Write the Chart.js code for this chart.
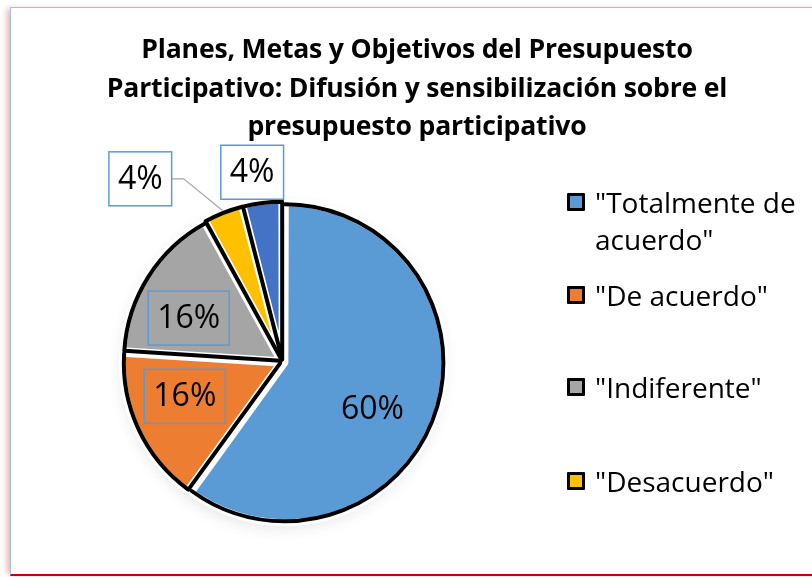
<!DOCTYPE html>
<html lang="es">
<head>
    <meta charset="UTF-8">
    <meta name="viewport" content="width=device-width, initial-scale=1.0">
    <title>Difusión y sensibilización sobre el presupuesto participativo</title>
    <script src="https://cdn.jsdelivr.net/npm/chart.js"></script>
    <style>
        body {
            margin: 0;
            background: #fff;
            font-family: "Open Sans", Arial, sans-serif;
        }
        .wrap {
            position: relative;
            width: 812px;
            height: 577px;
            overflow: hidden;
        }
        .frame {
            position: absolute;
            left: 10px;
            top: 7px;
            width: 840px;
            height: 566px;
            border-top: 1px solid #9cc2ee;
            border-left: 1px solid #9cc2ee;
            border-bottom: 2px solid #c8000a;
            box-shadow: -5px 0 6px -2px rgba(225, 110, 110, 0.55);
        }
        canvas {
            position: absolute;
            left: 0;
            top: 0;
        }
        h1 {
            position: absolute;
            left: 17px;
            width: 800px;
            top: 29px;
            margin: 0;
            text-align: center;
            font-size: 26.6px;
            font-weight: 700;
            line-height: 38.5px;
            letter-spacing: -0.2px;
            color: #000;
        }
        .legend {
            position: absolute;
            left: 567px;
            top: 0;
            margin: 0;
            padding: 0;
            list-style: none;
        }
        .legend li {
            position: absolute;
            left: 0;
            width: 240px;
            font-size: 28px;
            line-height: 37px;
            color: #000;
        }
        .legend .box {
            position: absolute;
            left: 0;
            top: 9px;
            width: 12px;
            height: 12px;
            border: 3px solid #000;
            border-radius: 1px;
        }
        .legend .txt {
            display: block;
            margin-left: 28px;
        }
    </style>
</head>
<body>
    <div class="wrap">
        <div class="frame"></div>
        <canvas id="pieChart" width="812" height="577"></canvas>
        <h1>Planes, Metas y Objetivos del Presupuesto<br>Participativo: Difusión y sensibilización sobre el<br>presupuesto participativo</h1>
        <ul class="legend" id="legend"></ul>
    </div>

    <script>
        const categorias = ['"Totalmente de acuerdo"', '"De acuerdo"', '"Indiferente"', '"Desacuerdo"', '"Totalmente en desacuerdo"'];
        const porcentajes = [60, 16, 16, 4, 4];
        const colores = ['#5B9BD5', '#ED7D31', '#A5A5A5', '#FFC000', '#4472C4'];
        const enLeyenda = 4; // la última categoría no aparece en la leyenda

        // posición de las etiquetas (fracción del radio y giro en grados)
        const etiquetaDist = [0.62, 0.64, 0.64, 1.44, 1.19];
        const etiquetaGiro = [10, 6, -7.5, -16.4, -1.9];
        const etiquetaCaja = [false, true, true, true, true];
        const etiquetaFondo = [false, false, false, true, true];
        const conGuia = [false, false, false, true, false];
        // bordes negros radiales de cada sector
        const bordeInicio = [false, true, true, true, true];
        const bordeFin = [false, false, false, false, true];

        // leyenda
        const legendTops = [184, 277, 369, 463];
        const legend = document.getElementById('legend');
        categorias.slice(0, enLeyenda).forEach((cat, i) => {
            const li = document.createElement('li');
            li.style.top = legendTops[i] + 'px';
            const txt = i === 0 ? '"Totalmente de<br>acuerdo"' : cat;
            li.innerHTML = '<span class="box" style="background:' + colores[i] + '"></span><span class="txt">' + txt + '</span>';
            legend.appendChild(li);
        });

        function arcProps(arc) {
            const p = arc.getProps(['x', 'y', 'startAngle', 'endAngle', 'outerRadius', 'circumference'], true);
            const off = (arc.options.offset || 0) / 4;
            const mid = (p.startAngle + p.endAngle) / 2;
            const fix = 1 - Math.sin(Math.min(Math.PI, p.circumference));
            return {
                cx: p.x + Math.cos(mid) * off,
                cy: p.y + Math.sin(mid) * off,
                r: p.outerRadius + off * fix,
                start: p.startAngle,
                end: p.endAngle,
                mid
            };
        }

        // sombra suave alrededor del pastel
        const sombra = {
            id: 'sombra',
            beforeDatasetsDraw(chart) {
                const arc = chart.getDatasetMeta(0).data[0];
                if (!arc) return;
                const p = arc.getProps(['x', 'y', 'outerRadius'], true);
                const ctx = chart.ctx;
                ctx.save();
                ctx.shadowColor = 'rgba(0, 0, 0, 0.16)';
                ctx.shadowBlur = 18;
                ctx.shadowOffsetY = 5;
                ctx.fillStyle = '#fff';
                ctx.beginPath();
                ctx.arc(p.x, p.y, p.outerRadius, 0, Math.PI * 2);
                ctx.fill();
                ctx.restore();
            }
        };

        const contorno = {
            id: 'contorno',
            afterDatasetsDraw(chart) {
                const ctx = chart.ctx;
                chart.getDatasetMeta(0).data.forEach((arc, i) => {
                    const a = arcProps(arc);
                    const r = a.r - 1.5;
                    ctx.save();
                    ctx.strokeStyle = '#000';
                    ctx.lineWidth = 4;
                    ctx.lineJoin = 'round';
                    ctx.lineCap = 'round';
                    ctx.beginPath();
                    if (bordeInicio[i]) {
                        ctx.moveTo(a.cx, a.cy);
                        ctx.lineTo(a.cx + Math.cos(a.start) * r, a.cy + Math.sin(a.start) * r);
                    } else {
                        ctx.moveTo(a.cx + Math.cos(a.start) * r, a.cy + Math.sin(a.start) * r);
                    }
                    ctx.arc(a.cx, a.cy, r, a.start, a.end);
                    if (bordeFin[i]) ctx.lineTo(a.cx, a.cy);
                    ctx.stroke();
                    ctx.restore();
                });
            }
        };

        const etiquetas = {
            id: 'etiquetas',
            afterDraw(chart) {
                const ctx = chart.ctx;
                const total = porcentajes.reduce((s, v) => s + v, 0);
                chart.getDatasetMeta(0).data.forEach((arc, i) => {
                    const a = arcProps(arc);
                    const ang = a.mid + etiquetaGiro[i] * Math.PI / 180;
                    const lx = a.cx + Math.cos(ang) * a.r * etiquetaDist[i];
                    const ly = a.cy + Math.sin(ang) * a.r * etiquetaDist[i];
                    const text = Math.round(porcentajes[i] / total * 100) + '%';
                    ctx.save();
                    ctx.font = '32px "Open Sans"';
                    const w = ctx.measureText(text).width + 18;
                    const h = 54;
                    if (conGuia[i]) {
                        const ex = a.cx + Math.cos(a.mid) * (a.r + 1);
                        const ey = a.cy + Math.sin(a.mid) * (a.r + 1);
                        ctx.strokeStyle = '#a6a6a6';
                        ctx.lineWidth = 1.2;
                        ctx.beginPath();
                        ctx.moveTo(lx + w / 2, ly);
                        ctx.lineTo(lx + w / 2 + 12, ly);
                        ctx.lineTo(ex, ey);
                        ctx.stroke();
                    }
                    if (etiquetaCaja[i]) {
                        if (etiquetaFondo[i]) {
                            ctx.fillStyle = '#fff';
                            ctx.fillRect(lx - w / 2, ly - h / 2, w, h);
                        }
                        ctx.strokeStyle = '#5B9BD5';
                        ctx.lineWidth = 1.5;
                        ctx.strokeRect(lx - w / 2, ly - h / 2, w, h);
                    }
                    ctx.fillStyle = '#000';
                    ctx.textAlign = 'center';
                    ctx.textBaseline = 'middle';
                    ctx.fillText(text, lx, ly + 1);
                    ctx.restore();
                });
            }
        };

        const ctx = document.getElementById('pieChart').getContext('2d');
        new Chart(ctx, {
            type: 'pie',
            data: {
                labels: categorias,
                datasets: [{
                    data: porcentajes,
                    backgroundColor: colores,
                    borderColor: '#fff',
                    borderWidth: 7,
                    offset: 10
                }]
            },
            options: {
                responsive: false,
                animation: false,
                layout: {
                    padding: { left: 112, right: 359, top: 196, bottom: 49 }
                },
                plugins: {
                    legend: { display: false },
                    title: { display: false },
                    tooltip: { enabled: false }
                }
            },
            plugins: [sombra, contorno, etiquetas]
        });
    </script>
</body>
</html>
